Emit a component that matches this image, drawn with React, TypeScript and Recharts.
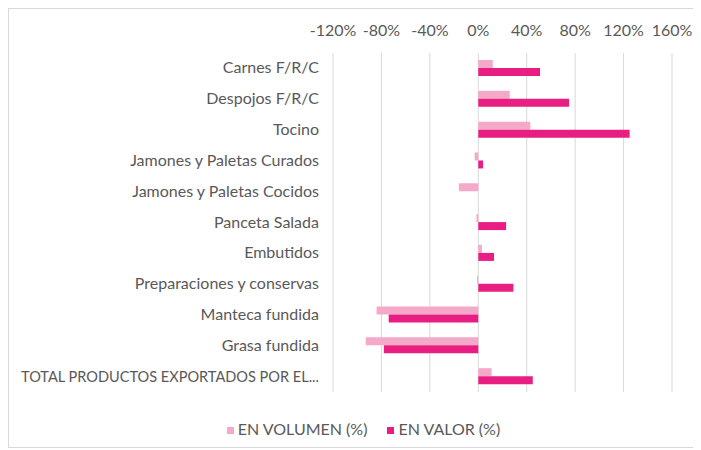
import { BarChart, Bar, XAxis, YAxis, CartesianGrid, Legend } from "recharts";

const categories = [
  "Carnes F/R/C",
  "Despojos F/R/C",
  "Tocino",
  "Jamones y Paletas Curados",
  "Jamones y Paletas Cocidos",
  "Panceta Salada",
  "Embutidos",
  "Preparaciones y conservas",
  "Manteca fundida",
  "Grasa fundida",
  "TOTAL PRODUCTOS EXPORTADOS POR EL...",
];
const volumen = [12, 26, 43, -3, -16, -1.5, 3, -1, -84, -93, 11];
const valor = [51, 75, 125, 4, 0, 23, 13, 29, -74, -78, 45];
const xTicks = [-120, -80, -40, 0, 40, 80, 120, 160];

const data = categories.map((name, i) => ({ name, volumen: volumen[i], valor: valor[i] }));

const FONT = "Lato, 'Open Sans', sans-serif";
const GREY = "#595959";

// plain text tick so the long last label stays on one line
const CategoryTick = (props: any) => {
  const { x, y, payload } = props;
  const long = payload.value.length > 30;
  return (
    <text
      x={x}
      y={y}
      dy={5}
      textAnchor="end"
      fill={GREY}
      fontSize={16}
      fontFamily={FONT}
      textLength={long ? 298 : undefined}
      lengthAdjust={long ? "spacingAndGlyphs" : undefined}
    >
      {payload.value}
    </text>
  );
};

export default function App() {
  return (
    <div style={{ width: 688, height: 438, border: "1px solid #d9d9d9", background: "#fff", fontFamily: FONT }}>
      <BarChart
        width={688}
        height={438}
        data={data}
        layout="vertical"
        barGap={0}
        margin={{ top: 14, right: 25, left: 0, bottom: 9 }}
      >
        <CartesianGrid horizontal={false} stroke="#d9d9d9" />
        <XAxis
          type="number"
          orientation="top"
          domain={[-120, 160]}
          ticks={xTicks}
          tickFormatter={(v) => `${v}%`}
          axisLine={false}
          tickLine={false}
          tickSize={0}
          tickMargin={17}
          height={30}
          tick={{ fill: GREY, fontSize: 16, fontFamily: FONT }}
        />
        <YAxis
          type="category"
          dataKey="name"
          width={324}
          axisLine={false}
          tickLine={false}
          tickSize={0}
          tickMargin={14}
          interval={0}
          tick={<CategoryTick />}
        />
        <Legend
          verticalAlign="bottom"
          iconType="square"
          iconSize={7}
          itemSorter={(item: any) => (item.dataKey === "volumen" ? 0 : 1)}
          wrapperStyle={{ fontSize: 16, fontFamily: FONT, paddingTop: 27, paddingLeft: 28 }}
          formatter={(value, _entry, index) => (
            <span style={{ color: GREY, marginRight: index === 0 ? 10 : 0 }}>{value}</span>
          )}
        />
        <Bar dataKey="volumen" name="EN VOLUMEN (%)" fill="#f5a9c9" barSize={8} isAnimationActive={false} />
        <Bar dataKey="valor" name="EN VALOR (%)" fill="#e91e82" barSize={8} isAnimationActive={false} />
      </BarChart>
    </div>
  );
}
